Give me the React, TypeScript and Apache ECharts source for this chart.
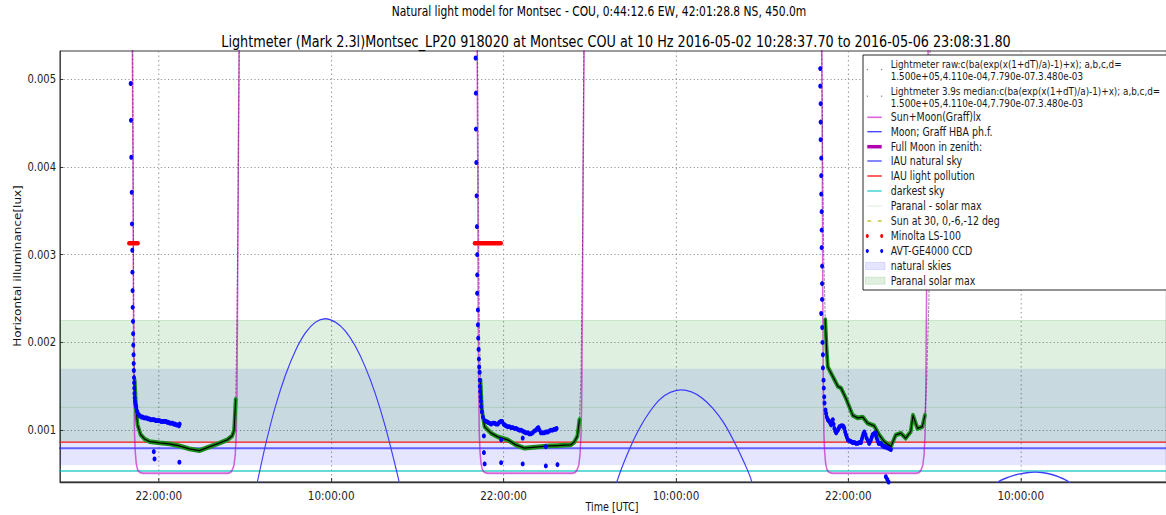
import React, { useEffect, useRef } from "react";
import * as echarts from "echarts";

// ---------- axis ranges (x = hours since 2016-05-02 00:00 UTC) ----------
const X_MIN = 15.12;
const X_MAX = 92.14;
const Y_MIN = 0.00041;
const Y_MAX = 0.00532;

const xTickHours = [22, 34, 46, 58, 70, 82];
const xTickLabels = ["22:00:00", "10:00:00", "22:00:00", "10:00:00", "22:00:00", "10:00:00"];
const yTickValues = [0.001, 0.002, 0.003, 0.004, 0.005];
const yTickLabels = ["0.001", "0.002", "0.003", "0.004", "0.005"];

// ---------- reference levels ----------
const naturalSkiesBand = [0.0006, 0.0017];
const paranalBand = [0.00086, 0.00225];
const paranalLine = 0.00126;
const iauNaturalSky = 0.000795;
const iauLightPollution = 0.000864;
const darkestSky = 0.000536;

// ---------- Sun+Moon model ----------
const sunMoon: number[][] = [
  [15.0, 0.02], [20.1, 0.0065], [20.16, 0.0053], [20.2, 0.004], [20.23, 0.0025], [20.27, 0.0014],
  [20.31, 0.00095], [20.36, 0.00075], [20.43, 0.00062], [20.52, 0.00055], [20.66, 0.00052], [20.9, 0.00051],
  [26.8, 0.00051], [27.0, 0.00052], [27.12, 0.00055], [27.23, 0.0006], [27.32, 0.00072], [27.39, 0.00095],
  [27.44, 0.0014], [27.48, 0.0025], [27.53, 0.004], [27.59, 0.0053], [27.65, 0.0065],
  [44.1, 0.0065], [44.16, 0.0053], [44.2, 0.004], [44.23, 0.0025], [44.27, 0.0014], [44.31, 0.00095],
  [44.36, 0.00075], [44.43, 0.00062], [44.52, 0.00055], [44.66, 0.00052], [44.9, 0.00051],
  [50.8, 0.00051], [51.0, 0.00052], [51.12, 0.00055], [51.23, 0.0006], [51.32, 0.00072], [51.39, 0.00095],
  [51.44, 0.0014], [51.49, 0.0025], [51.54, 0.004], [51.6, 0.0053], [51.66, 0.0065],
  [68.1, 0.0065], [68.15, 0.0053], [68.19, 0.004], [68.22, 0.0025], [68.26, 0.0014], [68.3, 0.00095],
  [68.35, 0.00075], [68.42, 0.00062], [68.51, 0.00055], [68.65, 0.00052], [68.9, 0.00051],
  [74.75, 0.00051], [74.95, 0.00052], [75.07, 0.00055], [75.18, 0.0006], [75.27, 0.00072], [75.34, 0.00095],
  [75.39, 0.0014], [75.44, 0.0025], [75.49, 0.004], [75.55, 0.0053], [75.6, 0.0065], [92.5, 0.02],
];

// ---------- Moon (Graff HBA) ----------
const moonArc1: number[][] = [
  [28.55, 0.0002], [28.86, 0.000415], [29.48, 0.00087], [30.13, 0.00128], [30.82, 0.00163], [31.52, 0.00191],
  [32.21, 0.00211], [32.9, 0.00223], [33.59, 0.00227], [34.29, 0.00223], [34.98, 0.00213], [35.67, 0.00196],
  [36.37, 0.00172], [37.06, 0.00142], [37.75, 0.00105], [38.44, 0.00061], [38.72, 0.000415], [38.95, 0.0002],
];
const moonArc2: number[][] = [
  [53.65, 0.0002], [53.91, 0.000423], [54.65, 0.000742], [55.39, 0.001], [56.13, 0.0012], [56.87, 0.00135],
  [57.6, 0.00143], [58.34, 0.00146], [59.08, 0.001436], [59.82, 0.001366], [60.56, 0.00125], [61.3, 0.00109],
  [62.03, 0.000876], [62.78, 0.00062], [63.26, 0.000423], [63.5, 0.0002],
];
const moonArc3: number[][] = [
  [80.1, 0.00035], [80.46, 0.000415], [81.15, 0.000465], [81.84, 0.000499], [82.42, 0.000516], [83.0, 0.000522],
  [83.58, 0.000515], [84.16, 0.000495], [84.73, 0.000462], [85.31, 0.000415], [85.6, 0.00036],
];

// ---------- Lightmeter 3.9 s median ----------
const medianNight1: number[][] = [
  [20.18, 0.0056], [20.25, 0.0025], [20.32, 0.00157], [20.42, 0.00123], [20.52, 0.00106], [20.73, 0.00095],
  [21.01, 0.0009], [21.36, 0.00087], [22.05, 0.000855], [22.74, 0.000844], [23.43, 0.000821], [24.13, 0.000787],
  [24.82, 0.000768], [25.51, 0.00081], [26.2, 0.000852], [26.76, 0.00089], [27.1, 0.000935], [27.24, 0.001],
  [27.35, 0.00135], [27.42, 0.00203], [27.52, 0.00362], [27.6, 0.0056],
];
const medianNight2: number[][] = [
  [44.18, 0.0056], [44.25, 0.00362], [44.32, 0.00214], [44.39, 0.00157], [44.49, 0.00123], [44.68, 0.00104],
  [45.13, 0.000966], [45.6, 0.000924], [46.29, 0.00089], [46.85, 0.000833], [47.45, 0.000795], [48.02, 0.000804],
  [48.6, 0.000813], [49.2, 0.000821], [49.75, 0.000825], [50.31, 0.00083], [50.68, 0.000833], [50.93, 0.000867],
  [51.14, 0.000935], [51.28, 0.00112], [51.38, 0.00157], [51.49, 0.00305], [51.6, 0.0056],
];
const medianNight3: number[][] = [
  [68.14, 0.0056], [68.21, 0.00418], [68.28, 0.00305], [68.39, 0.00226], [68.49, 0.00191], [68.57, 0.00172],
  [68.92, 0.00161], [69.27, 0.0015], [69.49, 0.00148], [69.84, 0.00136], [70.3, 0.00117], [70.65, 0.00114],
  [71.0, 0.00115], [71.34, 0.00108], [71.8, 0.00105], [72.15, 0.000946], [72.49, 0.00087], [72.96, 0.000813],
  [73.3, 0.000946], [73.65, 0.000966], [73.99, 0.000909], [74.34, 0.000984], [74.5, 0.00117], [74.81, 0.00102],
  [75.15, 0.00104], [75.33, 0.00117], [75.45, 0.00154], [75.54, 0.0021], [75.61, 0.00248], [75.69, 0.0056],
];
// raw lightmeter samples follow the same track in the dark part of each night
const rawNight1 = medianNight1.slice(2, 19);
const rawNight2 = medianNight2.slice(3, 20);
const rawNight3 = medianNight3.slice(3, 26);

// ---------- Minolta LS-100 ----------
const minoltaNight1: number[][] = [[19.92, 0.00313], [20.55, 0.00313]];
const minoltaNight2: number[][] = [[43.98, 0.00313], [45.83, 0.00313]];

// ---------- AVT-GE4000 CCD ----------
const ccdNight1: number[][] = [
  [20.04, 0.00495], [20.06, 0.00453], [20.08, 0.00411], [20.11, 0.00371], [20.13, 0.00335], [20.15, 0.00305],
  [20.16, 0.0028], [20.17, 0.00259], [20.18, 0.0024], [20.2, 0.00224], [20.21, 0.0021], [20.22, 0.00197],
  [20.24, 0.00186], [20.25, 0.00176], [20.26, 0.00168], [20.27, 0.0016], [20.28, 0.00154], [20.29, 0.00148],
  [20.3, 0.00142], [20.32, 0.00137], [20.34, 0.00133], [20.37, 0.0013], [20.4, 0.00128], [20.43, 0.00126],
  [20.48, 0.00122], [20.55, 0.00119], [20.63, 0.00117], [20.71, 0.00116], [20.79, 0.00115], [20.88, 0.00115],
  [20.97, 0.00114], [21.06, 0.00114], [21.15, 0.00114], [21.24, 0.00113], [21.33, 0.00113], [21.42, 0.00112],
  [21.51, 0.00112], [21.6, 0.00112], [21.69, 0.00112], [21.78, 0.00111], [21.87, 0.00111], [21.96, 0.00111],
  [22.05, 0.00111], [22.14, 0.0011], [22.23, 0.0011], [22.32, 0.0011], [22.41, 0.0011], [22.5, 0.0011],
  [22.59, 0.00109], [22.68, 0.00109], [22.77, 0.00108], [22.86, 0.00108], [22.95, 0.00108], [23.04, 0.00107],
  [23.13, 0.00107], [23.22, 0.00106], [23.31, 0.00106], [23.4, 0.00105], [23.45, 0.00107],
  [21.65, 0.000756], [21.7, 0.000673], [23.43, 0.000636],
];
const ccdNight2: number[][] = [
  [44.05, 0.00524], [44.07, 0.00484], [44.07, 0.00443], [44.1, 0.00405], [44.12, 0.00367], [44.14, 0.00332],
  [44.16, 0.003], [44.16, 0.00277], [44.16, 0.00256], [44.21, 0.00237], [44.21, 0.0022], [44.23, 0.00205],
  [44.26, 0.00192], [44.28, 0.00181], [44.3, 0.00172], [44.33, 0.00166], [44.35, 0.00157], [44.35, 0.0015],
  [44.37, 0.00144], [44.4, 0.00138], [44.42, 0.00133], [44.44, 0.00127], [44.49, 0.00121], [44.56, 0.00115],
  [44.68, 0.00111], [44.8, 0.0011], [44.91, 0.00109], [45.02, 0.00108], [45.13, 0.00107], [45.25, 0.00108],
  [45.37, 0.00108], [45.48, 0.00107], [45.6, 0.00107], [45.7, 0.00109], [45.8, 0.0011], [45.9, 0.0011],
  [46.0, 0.00107], [46.08, 0.00106], [46.17, 0.00105], [46.28, 0.00104], [46.4, 0.00104], [46.52, 0.00103],
  [46.64, 0.00103], [46.76, 0.00102], [46.87, 0.00102], [46.98, 0.00101], [47.1, 0.001], [47.21, 0.001],
  [47.33, 0.00099], [47.45, 0.00098], [47.56, 0.00097], [47.68, 0.00097], [47.79, 0.00096], [47.9, 0.00096],
  [48.02, 0.00097], [48.13, 0.00099], [48.25, 0.001], [48.34, 0.00102], [48.42, 0.00103], [48.5, 0.001],
  [48.6, 0.00097], [48.71, 0.00097], [48.83, 0.00097], [48.94, 0.00098], [49.06, 0.00098], [49.17, 0.00099],
  [49.29, 0.001], [49.41, 0.001], [49.52, 0.00101], [49.63, 0.00101], [49.69, 0.00102],
  [44.63, 0.000935], [44.63, 0.000745], [44.68, 0.000616], [45.83, 0.00089], [45.83, 0.00063],
  [47.33, 0.00091], [47.33, 0.000616], [48.94, 0.000813], [48.94, 0.000593], [49.75, 0.000608],
];
const ccdNight3: number[][] = [
  [68.04, 0.00512], [68.04, 0.00492], [68.07, 0.00472], [68.07, 0.00451], [68.07, 0.00431], [68.11, 0.0041],
  [68.11, 0.0039], [68.11, 0.00369], [68.14, 0.00349], [68.14, 0.00328], [68.14, 0.00308], [68.17, 0.00287],
  [68.17, 0.00267], [68.17, 0.00249], [68.11, 0.00233], [68.18, 0.00217], [68.2, 0.002], [68.23, 0.00186],
  [68.23, 0.00171], [68.27, 0.00157], [68.29, 0.00148], [68.32, 0.00138], [68.34, 0.00131], [68.41, 0.00123],
  [68.45, 0.00119], [68.5, 0.00115], [68.57, 0.00112], [68.62, 0.00111], [68.68, 0.0011], [68.74, 0.00108],
  [68.8, 0.00106], [68.86, 0.00109], [68.92, 0.00112], [68.97, 0.00107], [69.03, 0.00102], [69.09, 0.00099],
  [69.15, 0.00097], [69.21, 0.00099], [69.27, 0.001], [69.33, 0.00102], [69.38, 0.00104], [69.5, 0.00105],
  [69.61, 0.00105], [69.67, 0.00104], [69.72, 0.00102], [69.78, 0.00098], [69.84, 0.000946], [69.9, 0.00092],
  [69.96, 0.00089], [70.07, 0.00088], [70.19, 0.00087], [70.3, 0.00086], [70.42, 0.00086], [70.53, 0.00085],
  [70.65, 0.00085], [70.77, 0.00086], [70.88, 0.00086], [70.94, 0.0009], [71.0, 0.00093], [71.05, 0.00096],
  [71.11, 0.00098], [71.19, 0.00095], [71.27, 0.00091], [71.36, 0.00088], [71.45, 0.00085], [71.51, 0.00087],
  [71.57, 0.00089], [71.63, 0.00092], [71.69, 0.00095], [71.78, 0.00096], [71.87, 0.00097], [71.92, 0.00094],
  [71.97, 0.00091], [72.04, 0.00088], [72.11, 0.00085], [72.19, 0.00085], [72.27, 0.00085], [72.35, 0.00083],
  [72.42, 0.00082], [72.52, 0.00081], [72.61, 0.00081], [72.72, 0.0008], [72.84, 0.00079], [72.96, 0.00078],
  [72.61, 0.00047], [72.71, 0.00044], [72.8, 0.00041],
];

// ---------- legend ----------
const legendLabels: (string | string[])[] = [
  ["Lightmeter raw:c(ba(exp(x(1+dT)/a)-1)+x); a,b,c,d=", "1.500e+05,4.110e-04,7.790e-07.3.480e-03"],
  ["Lightmeter 3.9s median:c(ba(exp(x(1+dT)/a)-1)+x); a,b,c,d=", "1.500e+05,4.110e-04,7.790e-07.3.480e-03"],
  "Sun+Moon(Graff)lx",
  "Moon; Graff HBA ph.f.",
  "Full Moon in zenith:",
  "IAU natural sky",
  "IAU light pollution",
  "darkest sky",
  "Paranal - solar max",
  "Sun at 30, 0,-6,-12 deg",
  "Minolta LS-100",
  "AVT-GE4000 CCD",
  "natural skies",
  "Paranal solar max",
];

const TITLE = "Lightmeter (Mark 2.3l)Montsec_LP20 918020 at Montsec COU at 10 Hz 2016-05-02 10:28:37.70 to 2016-05-06 23:08:31.80";
const SUPTITLE = "Natural light model for Montsec - COU, 0:44:12.6 EW, 42:01:28.8 NS, 450.0m";
const X_NAME = "Time [UTC]";
const Y_NAME = "Horizontal illuminance[lux]";

// ---------- styling ----------
const SX = 0.8; // the whole figure is horizontally compressed
const W = 1166 / SX;
const H = 515;
const u = (x: number) => x / SX;
const FONT = '"DejaVu Sans", "Noto Sans", sans-serif';

const C_MAGENTA = "rgba(191,0,191,0.6)";
const C_MOON = "#3d3dff";
const C_NAT = "rgba(40,40,255,0.7)";
const C_RED = "#ff1a1a";
const C_CYAN = "rgba(0,191,191,0.6)";
const C_PARANAL = "rgba(0,128,0,0.12)";
const C_GREEN = "#1b8f1b";

function hline(v: number, color: string, width: number, z: number, extra: any = {}) {
  return {
    type: "line",
    data: [[X_MIN - 3, v], [X_MAX + 3, v]],
    symbol: "none",
    lineStyle: { color, width },
    silent: true,
    z,
    ...extra,
  };
}

function lineSeries(data: number[][], color: string, width: number, z: number, extra: any = {}, ls: any = {}) {
  return {
    type: "line",
    data,
    symbol: "none",
    lineStyle: { color, width, cap: "round", join: "round", ...ls },
    silent: true,
    z,
    ...extra,
  };
}

function buildLegend(): any[] {
  const els: any[] = [];
  const boxX = 863, boxY = 55, boxW = 320, boxH = 235;
  els.push({
    type: "rect",
    shape: { x: u(boxX), y: boxY, width: u(boxW), height: boxH },
    style: { fill: "#ffffff", stroke: "#111", lineWidth: 1 },
    z: 100,
  });
  const rowY = [65, 91.7, 117.3, 131.7, 146.7, 161, 176, 191, 206, 221, 236, 251, 266, 280.7];
  const iconX0 = u(867.3), iconX1 = u(881.7);
  const textX = u(890.7);
  const icons: any[] = [
    { k: "dots", c: "#4a7a4a", r: 0.7 },
    { k: "dots", c: "#777", r: 0.7 },
    { k: "line", c: C_MAGENTA, w: 1.6 },
    { k: "line", c: C_MOON, w: 1.3 },
    { k: "line", c: "#b000b0", w: 3.5 },
    { k: "line", c: C_NAT, w: 1.6 },
    { k: "line", c: C_RED, w: 1.4 },
    { k: "line", c: C_CYAN, w: 1.8 },
    { k: "line", c: "rgba(0,128,0,0.15)", w: 1 },
    { k: "dash", c: "#b8b800", w: 1.2 },
    { k: "dots", c: "#ff0000", r: 1.9 },
    { k: "dots", c: "#0000ff", r: 1.9 },
    { k: "patch", c: "rgba(0,0,255,0.1)", s: "rgba(0,0,255,0.15)" },
    { k: "patch", c: "rgba(0,128,0,0.12)", s: "rgba(0,128,0,0.2)" },
  ];
  legendLabels.forEach((lab, i) => {
    const y = rowY[i];
    const twoLines = Array.isArray(lab);
    const iy = twoLines ? y + 4.5 : y;
    const ic = icons[i];
    if (ic.k === "line") {
      els.push({ type: "line", shape: { x1: iconX0, y1: iy, x2: iconX1, y2: iy }, style: { stroke: ic.c, lineWidth: ic.w }, z: 101 });
    } else if (ic.k === "dash") {
      els.push({ type: "line", shape: { x1: iconX0, y1: iy, x2: iconX0 + u(4), y2: iy }, style: { stroke: ic.c, lineWidth: ic.w }, z: 101 });
      els.push({ type: "line", shape: { x1: iconX1 - u(4), y1: iy, x2: iconX1, y2: iy }, style: { stroke: ic.c, lineWidth: ic.w }, z: 101 });
    } else if (ic.k === "dots") {
      [iconX0, iconX1].forEach((cx) =>
        els.push({ type: "circle", shape: { cx, cy: iy, r: ic.r }, style: { fill: ic.c }, z: 101 })
      );
    } else if (ic.k === "patch") {
      els.push({
        type: "rect",
        shape: { x: u(865.5), y: iy - 3.5, width: u(19.5), height: 7 },
        style: { fill: ic.c, stroke: ic.s, lineWidth: 0.8 },
        z: 101,
      });
    }
    const lines = twoLines ? (lab as string[]) : [lab as string];
    lines.forEach((t, j) => {
      els.push({
        type: "text",
        x: textX,
        y: twoLines ? y - 0.5 + j * 12 : y,
        z: 102,
        style: {
          text: t,
          fontSize: twoLines ? 11 : 11.8,
          lineHeight: 11,
          fontFamily: FONT,
          fill: "#1a1a1a",
          align: "left",
          verticalAlign: "middle",
          textAlign: "left",
          textVerticalAlign: "middle",
        },
      });
    });
  });
  return els;
}

function buildOption(): any {
  const graphic: any[] = [
    {
      type: "text",
      x: u(599),
      y: 12,
      style: {
        text: SUPTITLE, fontSize: 13.4, fontFamily: FONT, fill: "#000",
        align: "center", verticalAlign: "middle", textAlign: "center", textVerticalAlign: "middle",
      },
    },
    {
      type: "text",
      x: u(616),
      y: 41,
      style: {
        text: TITLE, fontSize: 16, fontFamily: FONT, fill: "#000",
        align: "center", verticalAlign: "middle", textAlign: "center", textVerticalAlign: "middle",
      },
    },
    {
      type: "text",
      x: u(612),
      y: 507,
      style: {
        text: X_NAME, fontSize: 12, fontFamily: FONT, fill: "#111",
        align: "center", verticalAlign: "middle", textAlign: "center", textVerticalAlign: "middle",
      },
    },
    {
      type: "text",
      x: u(17.5),
      y: 266,
      rotation: Math.PI / 2,
      style: {
        text: Y_NAME, fontSize: 12, fontFamily: FONT, fill: "#111",
        align: "center", verticalAlign: "middle", textAlign: "center", textVerticalAlign: "middle",
      },
    },
    ...buildLegend(),
  ];

  const medianDotted = { type: [2, 2] };
  const series: any[] = [
    // bands (with the faint Paranal line)
    hline(paranalLine, "rgba(0,128,0,0.15)", 1, 1, {
      markArea: {
        silent: true,
        data: [
          [{ yAxis: naturalSkiesBand[0], itemStyle: { color: "rgba(0,0,255,0.1)" } }, { yAxis: naturalSkiesBand[1] }],
          [
            { yAxis: paranalBand[0], itemStyle: { color: C_PARANAL, borderColor: "rgba(0,128,0,0.18)", borderWidth: 1 } },
            { yAxis: paranalBand[1] },
          ],
        ],
      },
    }),
    hline(darkestSky, C_CYAN, 2, 2),
    hline(iauNaturalSky, C_NAT, 2, 2),
    hline(iauLightPollution, C_RED, 1.4, 2),
    lineSeries(sunMoon, C_MAGENTA, 1.9, 3),
    lineSeries(moonArc1, C_MOON, 1.4, 3, { smooth: 0.3 }),
    lineSeries(moonArc2, C_MOON, 1.4, 3, { smooth: 0.3 }),
    lineSeries(moonArc3, C_MOON, 1.4, 3, { smooth: 0.3 }),
    // median along the whole night (dark dotted where it rides on the twilight curve)
    lineSeries(medianNight1, "rgba(60,0,60,0.55)", 1, 4, {}, medianDotted),
    lineSeries(medianNight2, "rgba(60,0,60,0.55)", 1, 4, {}, medianDotted),
    lineSeries(medianNight3, "rgba(60,0,60,0.55)", 1, 4, {}, medianDotted),
    lineSeries(rawNight1, C_GREEN, 4.8, 5),
    lineSeries(rawNight2, C_GREEN, 4.8, 5),
    lineSeries(rawNight3, C_GREEN, 4.8, 5),
    lineSeries(rawNight1, "#000", 1.3, 6),
    lineSeries(rawNight2, "#000", 1.3, 6),
    lineSeries(rawNight3, "#000", 1.3, 6),
    lineSeries(minoltaNight1, "#ff0000", 4.5, 7),
    lineSeries(minoltaNight2, "#ff0000", 4.5, 7),
    {
      type: "scatter",
      data: [...ccdNight1, ...ccdNight2, ...ccdNight3],
      symbol: "circle",
      symbolSize: 5,
      itemStyle: { color: "#0000ff", opacity: 1 },
      silent: true,
      z: 8,
    },
  ];

  return {
    animation: false,
    backgroundColor: "#ffffff",
    textStyle: { fontFamily: FONT },
    grid: {
      left: u(60),
      top: 51,
      right: W - u(1172),
      bottom: H - 482,
      show: true,
      borderColor: "#222",
      borderWidth: 1,
      backgroundColor: "transparent",
    },
    xAxis: {
      type: "value",
      min: X_MIN,
      max: X_MAX,
      axisLine: { show: true, onZero: false, lineStyle: { color: "#333", width: 1.3 } },
      axisTick: { show: true, inside: true, length: 4, customValues: xTickHours, lineStyle: { color: "#222" } },
      axisLabel: {
        customValues: xTickHours,
        formatter: (v: number) => {
          const i = xTickHours.findIndex((t) => Math.abs(t - v) < 1e-6);
          return i >= 0 ? xTickLabels[i] : "";
        },
        fontSize: 13,
        fontFamily: FONT,
        color: "#222",
        margin: 7,
      },
      splitLine: { show: true, lineStyle: { color: "#8a8a8a", width: 1, type: [1.5, 3] } },
    },
    yAxis: {
      type: "value",
      min: Y_MIN,
      max: Y_MAX,
      axisLine: { show: true, onZero: false, lineStyle: { color: "#333", width: 1 } },
      axisTick: { show: true, inside: true, length: 4, customValues: yTickValues, lineStyle: { color: "#222" } },
      axisLabel: {
        customValues: yTickValues,
        formatter: (v: number) => {
          const i = yTickValues.findIndex((t) => Math.abs(t - v) < 1e-9);
          return i >= 0 ? yTickLabels[i] : "";
        },
        fontSize: 12.5,
        fontFamily: FONT,
        color: "#222",
        margin: 5,
      },
      splitLine: { show: true, lineStyle: { color: "#8a8a8a", width: 1, type: [1.5, 3] } },
    },
    graphic,
    series,
  };
}

export default function App() {
  const ref = useRef<HTMLDivElement>(null);
  useEffect(() => {
    if (!ref.current) return;
    const chart = echarts.init(ref.current, undefined, { renderer: "svg" });
    chart.setOption(buildOption());
    return () => chart.dispose();
  }, []);
  return (
    <div
      ref={ref}
      style={{
        position: "fixed",
        left: 0,
        top: 0,
        width: W,
        height: H,
        transform: `scaleX(${SX})`,
        transformOrigin: "0 0",
        background: "#fff",
      }}
    />
  );
}
